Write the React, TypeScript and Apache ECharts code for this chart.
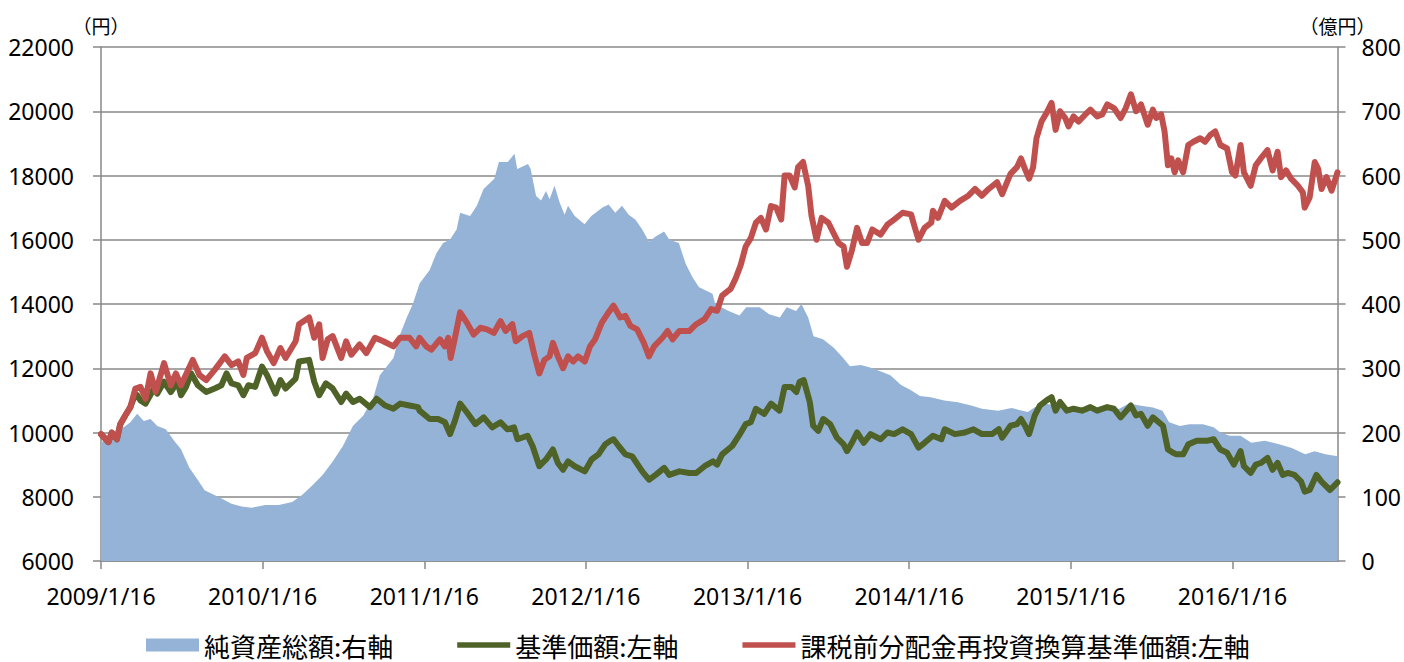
import React, { useEffect, useRef } from "react";
import * as echarts from "echarts";

// x positions are months elapsed since 2009/1/16
const yearLabels = ["2009/1/16", "2010/1/16", "2011/1/16", "2012/1/16", "2013/1/16", "2014/1/16", "2015/1/16", "2016/1/16"];
const seriesNames = ["純資産総額:右軸", "基準価額:左軸", "課税前分配金再投資換算基準価額:左軸"];

const areaMonths = [0, 1.18, 2.18, 2.68, 3.18, 3.68, 4.18, 4.81, 5.43, 5.94, 6.56, 7.19, 7.69, 8.69, 9.69, 10.44, 11.19, 12.2, 13.2, 14.2, 14.95, 15.7, 16.45, 17.2, 17.96, 18.7, 19.46, 20.2, 20.7, 21.71, 22.15, 22.7, 23.15, 23.65, 24.4, 24.9, 25.4, 25.9, 26.4, 26.66, 27.4, 27.9, 28.4, 29.2, 29.54, 30.2, 30.7, 30.9, 31.7, 31.9, 32.3, 32.67, 33.04, 33.3, 33.67, 34.05, 34.42, 34.67, 35.17, 35.9, 36.4, 37.2, 37.68, 38.18, 38.68, 39.18, 39.68, 40.18, 40.68, 41.18, 41.8, 42.2, 42.9, 43.4, 43.9, 44.4, 44.9, 45.4, 45.6, 46.6, 47.4, 47.9, 48.9, 49.6, 50.4, 50.9, 51.6, 52.0, 52.5, 52.9, 53.6, 54.4, 55.1, 55.6, 56.4, 57.1, 57.9, 58.6, 59.4, 60.1, 60.8, 61.6, 62.6, 63.6, 64.6, 65.4, 66.6, 67.6, 68.8, 69.3, 70.1, 70.8, 71.8, 73.1, 74.3, 75.6, 76.3, 77.1, 78.1, 78.8, 79.3, 80.1, 80.8, 81.8, 82.6, 83.1, 83.8, 84.6, 85.4, 86.4, 87.4, 88.4, 89.4, 90.1, 90.9, 91.8];
const areaValues = [184, 200, 216, 229, 218, 221, 210, 205, 187, 174, 145, 126, 110, 100, 89, 85, 83, 87, 87, 92, 103, 118, 134, 155, 179, 210, 226, 253, 289, 316, 350, 379, 400, 432, 453, 479, 495, 500, 516, 542, 537, 553, 579, 595, 621, 621, 634, 610, 618, 610, 568, 561, 576, 563, 584, 558, 539, 553, 537, 524, 537, 550, 555, 542, 553, 539, 531, 516, 497, 505, 513, 500, 495, 463, 442, 426, 421, 416, 400, 389, 382, 395, 395, 384, 379, 395, 389, 400, 379, 350, 345, 332, 316, 303, 305, 301, 295, 289, 274, 266, 257, 255, 250, 247, 242, 237, 234, 238, 232, 239, 245, 242, 239, 239, 237, 237, 245, 242, 239, 234, 216, 210, 213, 213, 208, 200, 195, 195, 184, 187, 182, 176, 166, 171, 166, 163];

const navMonths = [0, 0.55, 0.8, 1.18, 1.43, 1.8, 2.18, 2.55, 2.68, 2.93, 3.31, 3.93, 4.18, 4.68, 5.18, 5.68, 5.94, 6.31, 6.69, 7.19, 7.81, 8.44, 8.94, 9.32, 9.69, 10.19, 10.57, 10.94, 11.45, 11.95, 12.32, 12.95, 13.32, 13.7, 14.45, 14.7, 15.45, 15.83, 16.2, 16.7, 17.2, 17.83, 18.2, 18.71, 19.21, 19.96, 20.46, 21.09, 21.71, 22.21, 22.9, 23.53, 23.65, 24.4, 25.03, 25.53, 25.91, 26.28, 26.66, 27.16, 27.8, 28.41, 29.04, 29.66, 30.16, 30.66, 30.92, 31.67, 32.04, 32.54, 33.04, 33.55, 33.92, 34.3, 34.67, 35.17, 35.92, 36.42, 36.93, 37.43, 37.8, 38.05, 38.43, 38.93, 39.43, 40.18, 40.68, 41.18, 41.81, 42.19, 42.94, 43.69, 44.19, 44.81, 45.44, 45.74, 46.11, 46.86, 47.36, 47.86, 48.24, 48.62, 49.24, 49.74, 50.37, 50.75, 51.25, 51.62, 51.87, 52.17, 52.62, 52.87, 53.25, 53.62, 54.13, 54.63, 55.13, 55.38, 55.75, 56.13, 56.63, 57.13, 57.88, 58.38, 58.88, 59.51, 60.14, 60.69, 61.14, 61.76, 62.39, 62.64, 63.39, 64.14, 64.77, 65.4, 66.15, 66.65, 66.9, 67.52, 68.0, 68.3, 68.6, 68.9, 69.32, 69.7, 70.2, 70.57, 70.87, 71.2, 71.7, 72.2, 72.83, 73.45, 73.95, 74.7, 75.2, 75.7, 76.46, 76.84, 77.21, 77.71, 78.09, 78.84, 79.21, 79.59, 79.84, 80.34, 80.72, 81.34, 82.1, 82.6, 83.1, 83.6, 84.1, 84.6, 84.85, 85.35, 85.73, 86.1, 86.6, 86.98, 87.35, 87.73, 88.1, 88.6, 89.1, 89.36, 89.73, 90.23, 90.61, 91.24, 91.8];
const navValues = [9950, 9700, 10000, 9790, 10260, 10530, 10790, 11200, 11160, 11000, 10900, 11370, 11210, 11580, 11260, 11580, 11160, 11420, 11840, 11470, 11260, 11370, 11470, 11840, 11530, 11470, 11160, 11470, 11420, 12050, 11790, 11210, 11630, 11370, 11680, 12210, 12260, 11580, 11160, 11530, 11370, 10950, 11210, 10950, 11050, 10790, 11050, 10840, 10740, 10900, 10840, 10790, 10680, 10420, 10420, 10320, 9950, 10370, 10900, 10630, 10260, 10470, 10160, 10320, 10100, 10160, 9790, 9900, 9580, 8950, 9160, 9470, 9050, 8840, 9100, 8950, 8790, 9160, 9320, 9630, 9740, 9790, 9580, 9320, 9260, 8790, 8530, 8680, 8900, 8680, 8790, 8740, 8740, 8950, 9100, 9000, 9320, 9580, 9900, 10260, 10320, 10740, 10580, 10900, 10680, 11420, 11420, 11260, 11580, 11630, 10950, 10210, 10050, 10420, 10260, 9840, 9630, 9420, 9680, 10000, 9680, 9950, 9790, 10000, 9950, 10100, 9950, 9530, 9680, 9900, 9790, 10100, 9950, 10000, 10100, 9950, 9950, 10100, 9840, 10210, 10260, 10420, 10210, 9950, 10530, 10840, 11000, 11100, 10680, 10950, 10680, 10740, 10680, 10790, 10680, 10790, 10740, 10470, 10840, 10530, 10580, 10210, 10470, 10210, 9470, 9370, 9320, 9320, 9630, 9740, 9740, 9790, 9470, 9370, 9000, 9420, 8950, 8740, 9000, 9050, 9210, 8840, 9050, 8680, 8740, 8680, 8470, 8160, 8210, 8680, 8470, 8210, 8450];

const reinvMonths = [0, 0.55, 0.8, 1.18, 1.43, 1.8, 2.18, 2.55, 2.93, 3.31, 3.68, 4.06, 4.68, 5.18, 5.56, 5.94, 6.81, 7.31, 7.81, 8.44, 9.19, 9.69, 10.19, 10.57, 10.82, 11.45, 11.95, 12.32, 12.82, 13.32, 13.7, 14.45, 14.7, 15.45, 15.83, 16.2, 16.45, 16.83, 17.2, 17.83, 18.2, 18.58, 19.2, 19.7, 20.34, 20.96, 21.71, 22.2, 22.9, 23.4, 23.65, 24.15, 24.53, 25.16, 25.53, 25.78, 25.96, 26.28, 26.66, 27.16, 27.66, 28.16, 28.66, 29.16, 29.66, 30.04, 30.54, 30.79, 31.29, 31.79, 32.17, 32.54, 32.92, 33.3, 33.55, 33.92, 34.3, 34.67, 35.05, 35.42, 35.92, 36.3, 36.68, 37.18, 37.68, 38.05, 38.55, 38.93, 39.3, 39.8, 40.3, 40.68, 41.06, 41.68, 42.06, 42.44, 42.94, 43.69, 44.19, 44.81, 45.3, 45.74, 46.11, 46.74, 47.11, 47.49, 47.86, 48.24, 48.62, 48.99, 49.37, 49.74, 50.12, 50.5, 50.75, 51.12, 51.5, 51.75, 52.12, 52.5, 52.75, 53.12, 53.5, 54.0, 54.38, 54.75, 55.13, 55.38, 55.75, 56.13, 56.5, 56.88, 57.26, 57.88, 58.38, 58.88, 59.51, 60.14, 60.39, 60.69, 61.14, 61.64, 61.76, 62.14, 62.64, 63.14, 63.77, 64.39, 64.89, 65.4, 65.9, 66.52, 66.9, 67.52, 68.0, 68.3, 68.6, 68.9, 69.2, 69.45, 69.82, 70.2, 70.57, 70.87, 71.2, 71.58, 71.83, 72.2, 72.58, 73.08, 73.45, 73.95, 74.33, 74.7, 75.2, 75.7, 76.08, 76.46, 76.84, 77.21, 77.71, 78.09, 78.34, 78.71, 78.96, 79.21, 79.46, 79.71, 79.97, 80.34, 80.72, 81.1, 81.6, 81.97, 82.35, 82.72, 83.1, 83.6, 83.97, 84.22, 84.6, 84.85, 85.35, 85.73, 86.1, 86.6, 86.98, 87.35, 87.6, 87.98, 88.35, 88.86, 89.23, 89.36, 89.73, 90.11, 90.36, 90.61, 90.98, 91.36, 91.8];
const reinvValues = [9950, 9700, 10000, 9790, 10260, 10530, 10790, 11370, 11420, 11050, 11840, 11260, 12160, 11470, 11840, 11470, 12260, 11790, 11630, 11950, 12370, 12100, 12210, 11790, 12320, 12470, 12950, 12530, 12160, 12630, 12320, 12840, 13370, 13580, 12950, 13370, 12320, 12900, 13000, 12320, 12840, 12420, 12740, 12470, 12950, 12840, 12680, 12950, 12950, 12680, 12950, 12680, 12580, 12900, 12680, 12950, 12320, 12950, 13740, 13420, 13050, 13260, 13210, 13100, 13470, 13160, 13370, 12840, 13000, 13100, 12420, 11840, 12260, 12370, 12790, 12370, 12000, 12370, 12210, 12370, 12210, 12680, 12900, 13420, 13740, 13950, 13580, 13630, 13320, 13210, 12790, 12370, 12680, 12950, 13160, 12900, 13160, 13160, 13370, 13530, 13840, 13790, 14260, 14470, 14790, 15210, 15790, 16050, 16530, 16680, 16320, 17050, 17000, 16630, 18000, 18000, 17630, 18260, 18420, 17680, 16740, 16000, 16680, 16530, 16210, 15900, 15790, 15160, 15680, 16370, 15900, 15900, 16320, 16160, 16470, 16630, 16840, 16790, 16420, 16000, 16370, 16530, 16900, 16680, 17210, 17000, 17210, 17370, 17580, 17370, 17580, 17790, 17420, 18050, 18260, 18530, 18200, 17900, 18260, 19160, 19680, 19950, 20260, 19420, 20000, 19790, 19530, 19840, 19680, 19900, 20050, 19840, 19900, 20210, 20100, 19790, 20100, 20530, 20000, 20210, 19580, 20050, 19790, 19900, 19370, 18320, 18530, 18100, 18470, 18100, 18950, 19050, 19160, 19050, 19260, 19370, 18950, 18840, 18100, 18000, 18950, 18100, 17680, 18320, 18530, 18790, 18160, 18740, 17950, 18160, 17900, 17680, 17470, 17000, 17320, 18420, 18210, 17580, 17950, 17530, 18100];

const zip = (xs: number[], ys: number[]) => xs.map((x, i) => [x, ys[i]]);

const GRAY = "#898989";
const NUM_FONT = "'Noto Sans', 'DejaVu Sans', sans-serif";
const JP_FONT = "'Noto Sans CJK JP', 'Noto Sans', sans-serif";
const LINE_ICON = "path://M0,0L53,0L53,5.5L0,5.5Z";

export default function App() {
  const ref = useRef<HTMLDivElement>(null);
  useEffect(() => {
    if (!ref.current) return;
    const chart = echarts.init(ref.current, null, { renderer: "svg" });
    const axisLabel = { color: "#000", fontSize: 23, fontFamily: NUM_FONT, formatter: (v: number) => String(v) };
    chart.setOption({
      animation: false,
      backgroundColor: "#fff",
      grid: { left: 101, right: 66, top: 47, bottom: 101, containLabel: false },
      legend: {
        left: 146,
        top: 632,
        padding: 0,
        itemGap: 64,
        itemWidth: 53,
        itemHeight: 13,
        symbolKeepAspect: true,
        textStyle: { color: "#000", fontSize: 26, fontFamily: JP_FONT },
        data: [
          { name: seriesNames[0], icon: "rect", itemStyle: { color: "#95B3D7", borderWidth: 0 } },
          { name: seriesNames[1], icon: LINE_ICON, itemStyle: { color: "#4F6228", borderWidth: 0 } },
          { name: seriesNames[2], icon: LINE_ICON, itemStyle: { color: "#C0504D", borderWidth: 0 } },
        ],
      },
      xAxis: {
        type: "value",
        min: 0,
        max: 91.8,
        interval: 12,
        axisLine: { show: true, lineStyle: { color: GRAY, width: 1.5 } },
        axisTick: { show: true, length: 8, lineStyle: { color: GRAY, width: 1.5 } },
        splitLine: { show: false },
        axisLabel: {
          color: "#000",
          fontSize: 23,
          fontFamily: NUM_FONT,
          margin: 23,
          showMaxLabel: false,
          formatter: (v: number) => (Math.abs(v % 12) < 1e-6 ? yearLabels[Math.round(v / 12)] ?? "" : ""),
        },
      },
      yAxis: [
        {
          type: "value",
          min: 6000,
          max: 22000,
          interval: 2000,
          position: "left",
          name: "（円）",
          nameLocation: "end",
          nameGap: 12,
          nameTextStyle: { color: "#000", fontSize: 19, fontFamily: JP_FONT },
          axisLine: { show: true, lineStyle: { color: GRAY, width: 1.5 } },
          axisTick: { show: true, length: 8, lineStyle: { color: GRAY, width: 1.5 } },
          splitLine: { show: true, lineStyle: { color: GRAY, width: 1.5 } },
          axisLabel: { ...axisLabel, margin: 27 },
        },
        {
          type: "value",
          min: 0,
          max: 800,
          interval: 100,
          position: "right",
          name: "（億円）",
          nameLocation: "end",
          nameGap: 12,
          nameTextStyle: { color: "#000", fontSize: 19, fontFamily: JP_FONT },
          axisLine: { show: true, lineStyle: { color: GRAY, width: 1.5 } },
          axisTick: { show: true, length: 8, lineStyle: { color: GRAY, width: 1.5 } },
          splitLine: { show: false },
          axisLabel: { ...axisLabel, margin: 24 },
        },
      ],
      series: [
        {
          name: seriesNames[0],
          type: "line",
          yAxisIndex: 1,
          symbol: "none",
          color: "#95B3D7",
          lineStyle: { width: 0, color: "#95B3D7" },
          areaStyle: { color: "#95B3D7", opacity: 1 },
          data: zip(areaMonths, areaValues),
          z: 1,
        },
        {
          name: seriesNames[1],
          type: "line",
          yAxisIndex: 0,
          symbol: "none",
          color: "#4F6228",
          lineStyle: { width: 6, color: "#4F6228", cap: "round", join: "round" },
          data: zip(navMonths, navValues),
          z: 3,
        },
        {
          name: seriesNames[2],
          type: "line",
          yAxisIndex: 0,
          symbol: "none",
          color: "#C0504D",
          lineStyle: { width: 6, color: "#C0504D", cap: "round", join: "round" },
          data: zip(reinvMonths, reinvValues),
          z: 4,
        },
      ],
    });
    return () => chart.dispose();
  }, []);
  return <div ref={ref} style={{ position: "absolute", left: 0, top: 0, width: 1404, height: 662 }} />;
}
